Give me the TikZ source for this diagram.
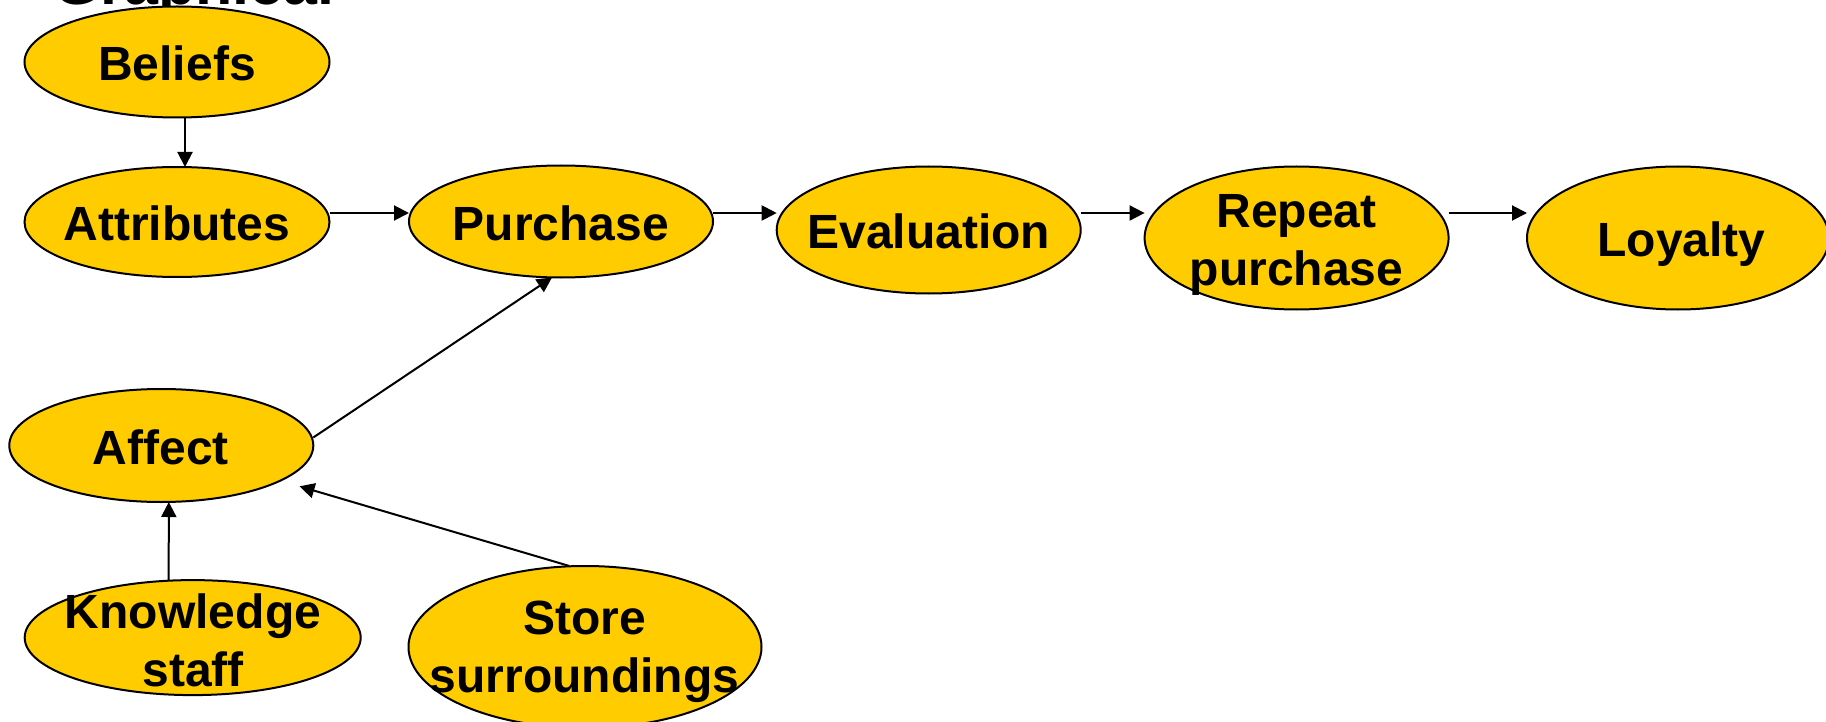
\documentclass[tikz,border=0pt]{standalone}
\usepackage{fontspec}
\setmainfont{Liberation Sans}
\usetikzlibrary{shapes.geometric,arrows.meta}
\definecolor{bubblegold}{RGB}{255,204,0}
\tikzset{
  bubble/.style={ellipse, draw=black, line width=2pt, fill=bubblegold,
    inner sep=0pt, outer sep=0pt},
  lbl/.style={inner sep=0pt, align=center,
    font=\fontsize{48}{58}\selectfont\bfseries},
  arr/.style={line width=2pt, -{Triangle[length=15pt,width=15pt]}},
}
\begin{document}
\begin{tikzpicture}[x=1pt,y=-1pt]
\useasboundingbox (0,0) rectangle (1826,722);
\clip (0,0) rectangle (1826,722);

% slide heading, mostly above the frame
\node[anchor=base west, inner sep=0pt, font=\fontsize{61}{70}\selectfont\bfseries]
  (heading) at (53,5) {Graphical};

% ellipses
\node[bubble, minimum width=305pt, minimum height=111pt] (Beliefs)    at (177,62)     {};
\node[bubble, minimum width=305pt, minimum height=110pt] (Attributes) at (177,222)    {};
\node[bubble, minimum width=304pt, minimum height=112pt] (Purchase)   at (561,221.5)  {};
\node[bubble, minimum width=304pt, minimum height=127pt] (Evaluation) at (928.7,230)  {};
\node[bubble, minimum width=304pt, minimum height=143pt] (Repeat)     at (1296.6,238) {};
\node[bubble, minimum width=302pt, minimum height=143pt] (Loyalty)    at (1678,238)   {};
\node[bubble, minimum width=304pt, minimum height=113pt] (Affect)     at (161.3,445.5){};
\node[bubble, minimum width=336pt, minimum height=115pt] (Knowledge)  at (192.7,637.6){};
\node[bubble, minimum width=353pt, minimum height=162pt] (Store)      at (585,647)    {};

% texts
\node[lbl] (Beliefs-t)    at (177,63)      {Beliefs};
\node[lbl] (Attributes-t) at (177,223.6)   {Attributes};
\node[lbl] (Purchase-t)   at (561,223.6)   {Purchase};
\node[lbl] (Evaluation-t) at (928.7,231.7) {Evaluation};
\node[lbl] (Repeat-t)     at (1296.6,245)  {Repeat\\purchase};
\node[lbl] (Loyalty-t)    at (1681.5,244.5){Loyalty};
\node[lbl] (Affect-t)     at (160.7,447)   {Affect};
\node[lbl] (Knowledge-t)  at (193,640)     {Knowledge\\staff};
\node[lbl] (Store-t)      at (584.6,652)   {Store\\surroundings};

% connectors
\draw[arr] ([xshift=8pt]Beliefs.south) -- ([xshift=8pt]Attributes.north);
\draw[arr] ([yshift=9pt]Attributes.east) -- ([yshift=8.5pt]Purchase.west);
\draw[arr] ([yshift=8.5pt]Purchase.east) -- ([yshift=17pt]Evaluation.west);
\draw[arr] ([yshift=17pt]Evaluation.east) -- ([yshift=25pt]Repeat.west);
\draw[arr] ([yshift=25pt]Repeat.east) -- ([yshift=25pt]Loyalty.west);
\draw[arr] ([yshift=8pt]Affect.east) -- ([xshift=-9pt]Purchase.south);
\draw[arr] ([xshift=-24pt]Knowledge.north) -- ([xshift=7.5pt]Affect.south);
\draw[arr, shorten >=20pt] ([xshift=-15.6pt]Store.north) -- (Affect);
\end{tikzpicture}
\end{document}
